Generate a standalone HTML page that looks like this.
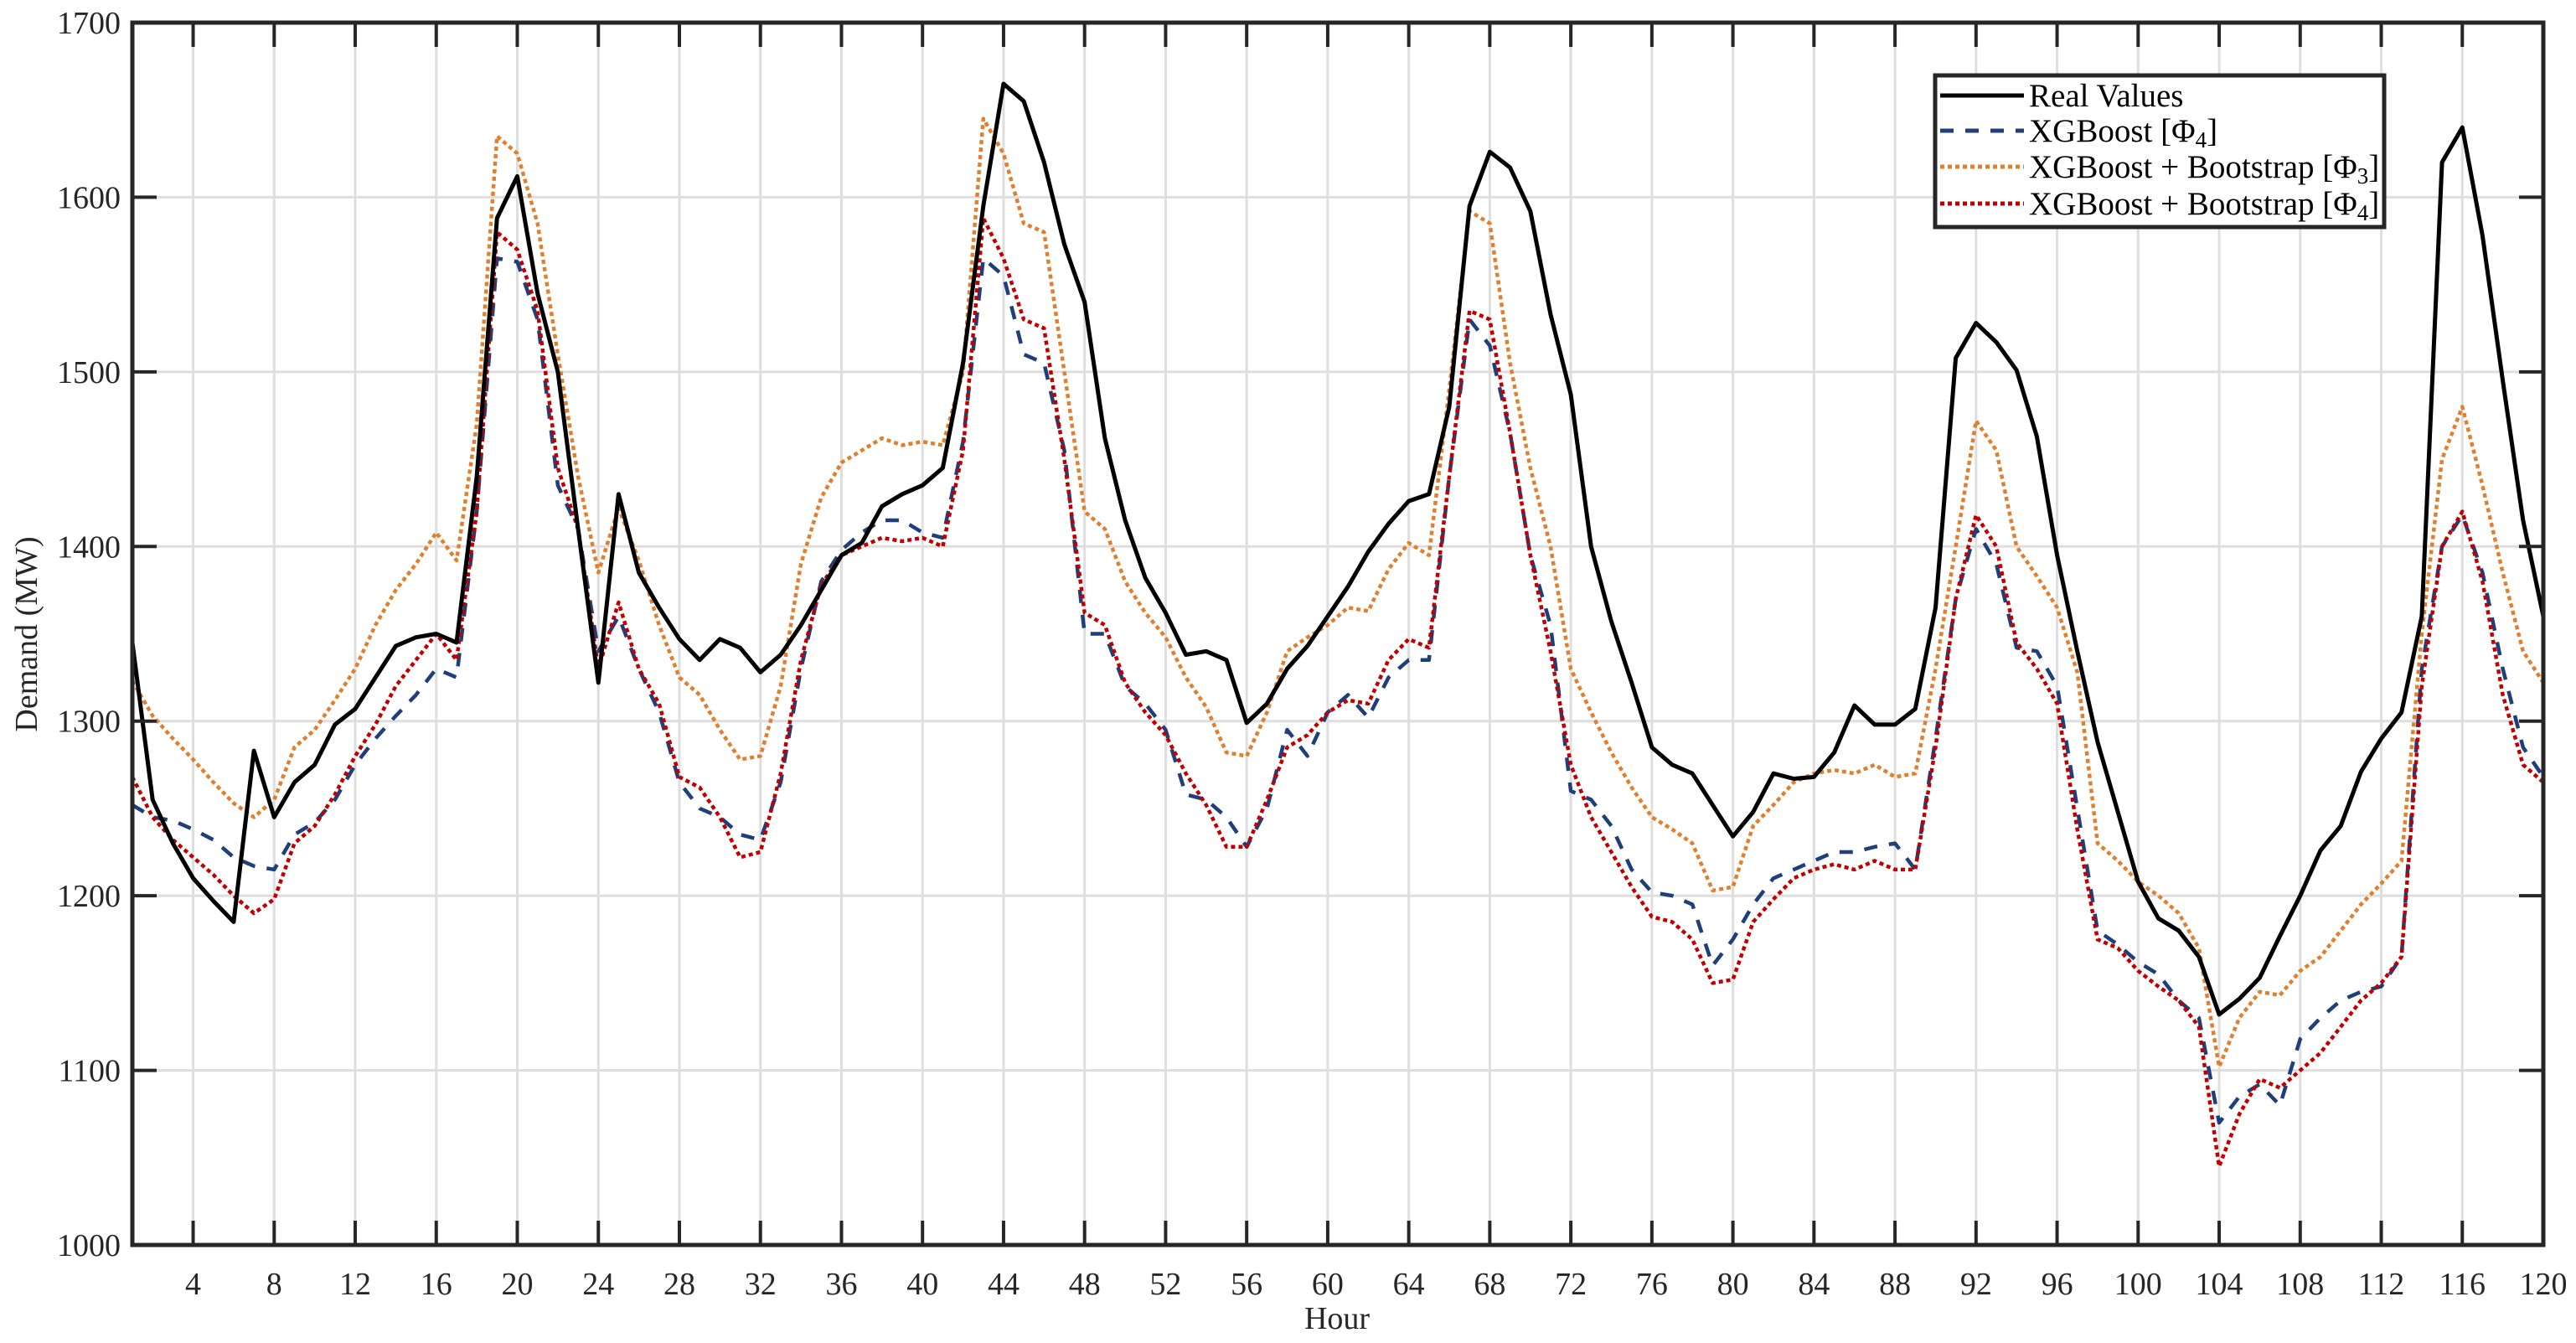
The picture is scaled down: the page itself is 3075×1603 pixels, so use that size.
<!DOCTYPE html>
<html><head><meta charset="utf-8"><style>
html,body{margin:0;padding:0;background:#fff;}
svg{display:block;font-family:"Liberation Serif",serif;}
</style></head><body>
<svg id="chart" width="3075" height="1603" viewBox="0 0 3075 1603" xmlns="http://www.w3.org/2000/svg">
<rect x="0" y="0" width="3075" height="1603" fill="#fff"/>
<g id="grid"></g>
<g id="series"></g>
<g id="axes"></g>
<text x="0" y="0" transform="translate(44,757) rotate(-90)" text-anchor="middle" font-size="38" fill="#262626">Demand (MW)</text>
<text x="1596" y="1586" text-anchor="middle" font-size="38" fill="#262626">Hour</text>
<g>
<rect x="2310" y="90" width="536" height="181" fill="#fff" stroke="#262626" stroke-width="5"/>
<line x1="2316" y1="114" x2="2416" y2="114" stroke="#000" stroke-width="5"/>
<text x="2422" y="127" font-size="39">Real Values</text>
<line x1="2316" y1="156" x2="2416" y2="156" stroke="#1f3f7a" stroke-width="5" stroke-dasharray="16,14"/>
<text x="2422" y="169" font-size="39">XGBoost [Φ<tspan font-size="27" dy="7">4</tspan><tspan dy="-7">]</tspan></text>
<line x1="2316" y1="199" x2="2416" y2="199" stroke="#e0802f" stroke-width="5" stroke-dasharray="5,4"/>
<text x="2422" y="212" font-size="39">XGBoost + Bootstrap [Φ<tspan font-size="27" dy="7">3</tspan><tspan dy="-7">]</tspan></text>
<line x1="2316" y1="243" x2="2416" y2="243" stroke="#c00000" stroke-width="5" stroke-dasharray="5,4"/>
<text x="2422" y="256" font-size="39">XGBoost + Bootstrap [Φ<tspan font-size="27" dy="7">4</tspan><tspan dy="-7">]</tspan></text>
</g>
</svg>
<script>
const xTicks=[4,8,12,16,20,24,28,32,36,40,44,48,52,56,60,64,68,72,76,80,84,88,92,96,100,104,108,112,116,120];
const yTicks=[1000,1100,1200,1300,1400,1500,1600,1700];
const realValues=[1345,1255,1230,1210,1197,1185,1283,1245,1265,1275,1298,1307,1325,1343,1348,1350,1345,1440,1588,1612,1545,1500,1410,1322,1430,1385,1365,1347,1335,1347,1342,1328,1338,1355,1375,1395,1402,1423,1430,1435,1445,1505,1595,1665,1655,1620,1573,1540,1462,1415,1382,1362,1338,1340,1335,1299,1310,1330,1343,1360,1377,1397,1413,1426,1430,1480,1595,1626,1617,1592,1533,1487,1400,1357,1322,1285,1275,1270,1252,1234,1248,1270,1267,1268,1282,1309,1298,1298,1307,1365,1508,1528,1517,1501,1463,1395,1340,1288,1248,1208,1187,1180,1165,1132,1141,1153,1177,1200,1226,1240,1271,1290,1305,1360,1620,1640,1578,1495,1415,1360];
const xgbPhi4=[1252,1245,1243,1238,1232,1222,1217,1215,1235,1242,1255,1275,1290,1303,1315,1330,1325,1420,1565,1563,1530,1435,1410,1340,1360,1330,1305,1265,1250,1245,1235,1232,1265,1330,1380,1398,1408,1415,1415,1408,1405,1460,1565,1555,1510,1505,1455,1350,1350,1320,1310,1295,1258,1255,1245,1228,1250,1295,1280,1305,1315,1302,1325,1335,1335,1440,1530,1515,1465,1395,1355,1260,1255,1240,1215,1202,1200,1195,1160,1175,1195,1210,1215,1220,1225,1225,1228,1230,1215,1290,1370,1410,1390,1342,1340,1320,1250,1180,1172,1162,1155,1140,1130,1070,1085,1092,1080,1118,1130,1140,1145,1148,1165,1330,1400,1418,1385,1330,1285,1268];
const bootPhi3=[1323,1303,1290,1278,1265,1253,1245,1255,1285,1295,1312,1330,1355,1375,1390,1408,1392,1470,1635,1625,1585,1510,1440,1385,1422,1392,1355,1325,1315,1295,1278,1280,1320,1390,1428,1448,1455,1462,1458,1460,1458,1500,1645,1625,1585,1580,1500,1420,1410,1380,1362,1348,1325,1308,1282,1280,1305,1340,1348,1355,1365,1363,1387,1402,1395,1490,1592,1585,1505,1445,1400,1330,1305,1282,1262,1245,1238,1230,1203,1205,1240,1252,1265,1270,1272,1270,1275,1268,1270,1330,1400,1472,1455,1400,1383,1365,1328,1230,1220,1208,1200,1190,1170,1102,1130,1145,1143,1157,1165,1180,1195,1207,1220,1350,1450,1480,1435,1385,1340,1322];
const bootPhi4=[1268,1245,1232,1222,1212,1200,1190,1198,1230,1240,1258,1280,1298,1320,1335,1350,1335,1420,1580,1570,1535,1445,1410,1330,1368,1330,1310,1268,1262,1245,1222,1225,1270,1335,1378,1395,1400,1405,1403,1405,1400,1455,1588,1565,1530,1525,1450,1362,1355,1322,1305,1292,1270,1252,1228,1228,1255,1285,1292,1305,1312,1310,1335,1347,1342,1440,1535,1530,1465,1395,1340,1275,1245,1225,1205,1188,1185,1175,1150,1152,1185,1198,1210,1215,1218,1215,1220,1215,1215,1285,1370,1418,1400,1345,1330,1310,1238,1175,1170,1157,1148,1140,1125,1045,1075,1095,1090,1100,1110,1125,1140,1150,1165,1320,1400,1420,1380,1315,1275,1265];

const L=158,R=3036,T=27,B=1486,X0=1,X1=120,Y0=1000,Y1=1700;
const NS="http://www.w3.org/2000/svg";
function sx(h){return L+(h-X0)/(X1-X0)*(R-L);}
function sy(v){return B-(v-Y0)/(Y1-Y0)*(B-T);}
function mk(tag,attrs,parent){const e=document.createElementNS(NS,tag);for(const k in attrs)e.setAttribute(k,attrs[k]);parent.appendChild(e);return e;}
const grid=document.getElementById('grid'),axes=document.getElementById('axes'),series=document.getElementById('series');
xTicks.forEach(t=>{
  const g=mk('line',{x1:sx(t),x2:sx(t),y1:T,y2:B,stroke:'#dedede','stroke-width':3},grid);
  
  
  const a=mk('line',{x1:sx(t),x2:sx(t),y1:B,y2:B-29,stroke:'#262626','stroke-width':4},axes);
  
  
  const b=mk('line',{x1:sx(t),x2:sx(t),y1:T,y2:T+29,stroke:'#262626','stroke-width':4},axes);
  
  
  const lb=mk('text',{x:sx(t),y:B+59,'text-anchor':'middle','font-size':38,fill:'#262626'},axes);
  lb.textContent=t;
  
  
});
yTicks.forEach(t=>{
  const g=mk('line',{x1:L,x2:R,y1:sy(t),y2:sy(t),stroke:'#dedede','stroke-width':3},grid);
  
  
  const a=mk('line',{x1:L,x2:L+29,y1:sy(t),y2:sy(t),stroke:'#262626','stroke-width':4},axes);
  
  
  const b=mk('line',{x1:R,x2:R-29,y1:sy(t),y2:sy(t),stroke:'#262626','stroke-width':4},axes);
  
  
  const lb=mk('text',{x:L-14,y:sy(t)+13,'text-anchor':'end','font-size':38,fill:'#262626'},axes);
  lb.textContent=t;
  
  
});
const box=mk('rect',{x:L,y:T,width:R-L,height:B-T,fill:'none',stroke:'#262626','stroke-width':5},axes);


function draw(vals,color,dash,w,name){
  const d=vals.map((v,i)=>(i?'L':'M')+sx(i+1).toFixed(1)+','+sy(v).toFixed(1)).join(' ');
  const p=mk('path',{d:d,fill:'none',stroke:color,'stroke-width':w,'stroke-linejoin':'round'},series);
  if(dash)p.setAttribute('stroke-dasharray',dash);
  
  
}
draw(xgbPhi4,'#1f3f7a','16,14',4.5,'series-xgboost-phi4');
draw(bootPhi3,'#e0802f','5,4',4.5,'series-bootstrap-phi3');
draw(bootPhi4,'#c00000','5,4',4.5,'series-bootstrap-phi4');
draw(realValues,'#000','',5,'series-real-values');
</script>
</body></html>
